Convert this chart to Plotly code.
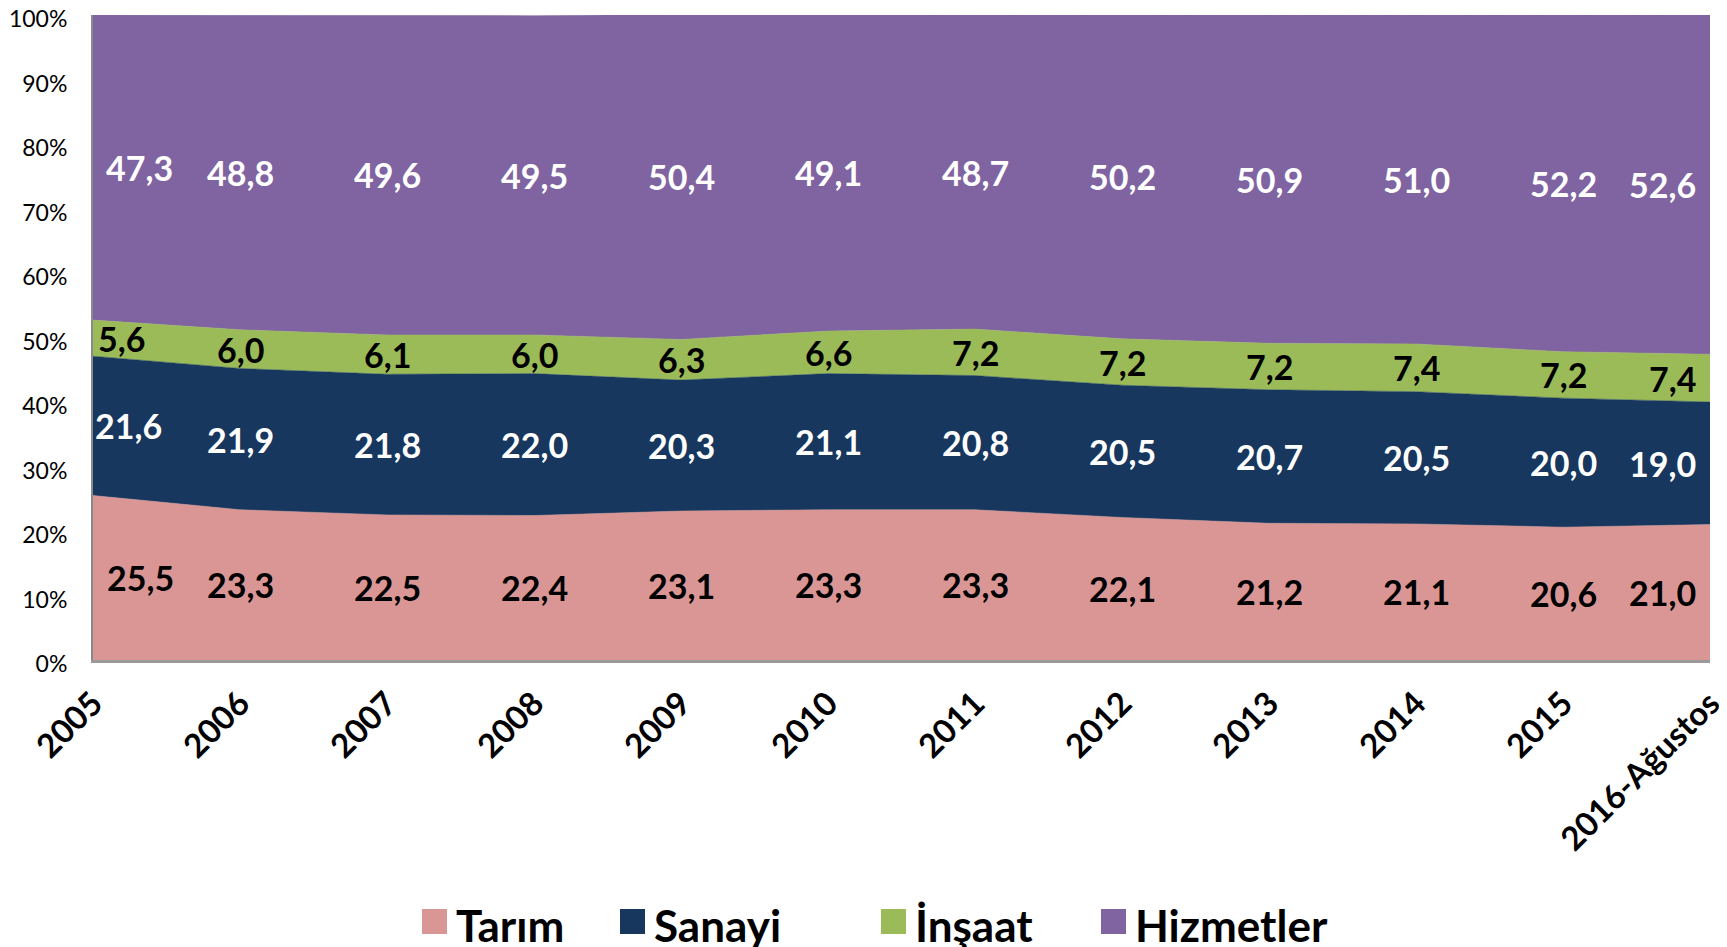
import plotly.graph_objects as go

years = ["2005", "2006", "2007", "2008", "2009", "2010", "2011",
         "2012", "2013", "2014", "2015", "2016-Ağustos"]
tarim = [25.5, 23.3, 22.5, 22.4, 23.1, 23.3, 23.3, 22.1, 21.2, 21.1, 20.6, 21.0]
sanayi = [21.6, 21.9, 21.8, 22.0, 20.3, 21.1, 20.8, 20.5, 20.7, 20.5, 20.0, 19.0]
insaat = [5.6, 6.0, 6.1, 6.0, 6.3, 6.6, 7.2, 7.2, 7.2, 7.4, 7.2, 7.4]
hizmetler = [47.3, 48.8, 49.6, 49.5, 50.4, 49.1, 48.7, 50.2, 50.9, 51.0, 52.2, 52.6]

series_names = ["Tarım", "Sanayi", "İnşaat", "Hizmetler"]
series_values = [tarim, sanayi, insaat, hizmetler]
colors = ["#D99694", "#17375E", "#9BBB59", "#8064A2"]
label_colors = ["black", "white", "black", "white"]
first_shift = [12, 0, 3, 11]

# page has an 8px body margin: figure is offset by it inside the window
OFF = 8
WIN_W, WIN_H = 1727, 947
W, H = WIN_W - OFF, WIN_H - OFF
# target plot area in window pixels
L, R, T, B = 93, 1710, 15, 660

fig = go.Figure()
for name, vals, col in zip(series_names, series_values, colors):
    fig.add_trace(go.Scatter(
        x=years, y=vals, name=name, stackgroup="one", mode="lines",
        line=dict(width=0.5, color=col), fillcolor=col,
        hoverinfo="skip", showlegend=False,
    ))

FONT = "Lato"
annotations = []
base = [0.0] * len(years)
for si, vals in enumerate(series_values):
    for j, v in enumerate(vals):
        ymid = base[j] + v / 2
        a = dict(x=j, y=ymid, xref="x", yref="y",
                 text=f"{v:.1f}".replace(".", ","), showarrow=False,
                 font=dict(family=FONT, size=34, color=label_colors[si], weight="bold"),
                 yanchor="middle")
        if j == 0:
            a.update(xanchor="left", xshift=first_shift[si])
        elif j == len(years) - 1:
            a.update(xanchor="right", xshift=-12)
        else:
            a.update(xanchor="center")
        annotations.append(a)
    base = [b + v for b, v in zip(base, vals)]


def px_x(p):
    return (p - L) / (R - L)


def px_y(p):
    return (B - p) / (B - T)


# manual legend (window pixel positions)
leg_sq = [(422, 447), (620, 645), (881, 906), (1101, 1126)]
shapes = []
for (x0, x1), name, col in zip(leg_sq, series_names, colors):
    shapes.append(dict(type="rect", xref="paper", yref="paper",
                       x0=px_x(x0), x1=px_x(x1), y0=px_y(934), y1=px_y(909),
                       fillcolor=col, line=dict(width=0)))
    annotations.append(dict(x=px_x(x1 + 7), y=px_y(925), xref="paper", yref="paper",
                            text=name, showarrow=False, xanchor="left", yanchor="middle",
                            font=dict(family=FONT, size=44, color="black", weight="bold")))

fig.update_layout(
    width=W, height=H,
    margin=dict(l=L - OFF, r=W - (R - OFF), t=T - OFF, b=H - (B - OFF), autoexpand=False),
    paper_bgcolor="white", plot_bgcolor="white",
    showlegend=False,
    annotations=annotations, shapes=shapes,
    xaxis=dict(type="category", range=[0, len(years) - 1], tickangle=-45,
               tickfont=dict(family=FONT, size=33, color="black", weight="bold"),
               showgrid=False, showline=True, linecolor="#9a9a9a", linewidth=3,
               ticks="", ticklabelstandoff=8, zeroline=False, automargin=False,
               ticklabeloverflow="allow"),
    yaxis=dict(range=[0, 100], dtick=10, ticksuffix="%",
               tickfont=dict(family=FONT, size=23, color="black"),
               showgrid=False, showline=True, linecolor="#8a8a8a", linewidth=2,
               ticks="", ticklabelstandoff=19, ticklabelshift=4, zeroline=False,
               automargin=False, ticklabeloverflow="allow"),
)

fig.write_html("out.html")
